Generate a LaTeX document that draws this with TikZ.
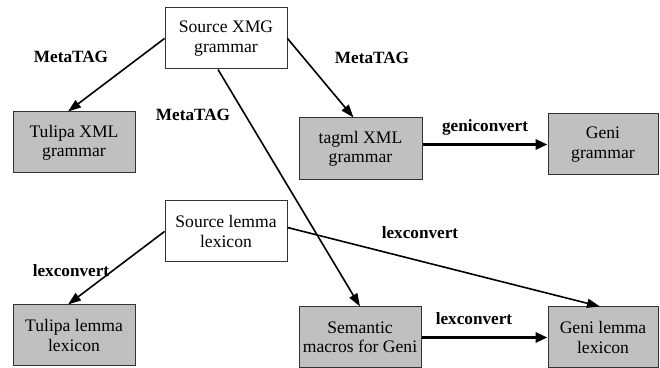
\documentclass[tikz,border=0pt]{standalone}
\usepackage{fontspec}
\setmainfont{Liberation Serif}
\usepackage{xcolor}
\definecolor{boxgray}{RGB}{192,192,192}
\usepackage{tikz}
\usetikzlibrary{arrows.meta,positioning}

\begin{document}
\begin{tikzpicture}[x=0.5pt,y=-0.5pt,
  srcbox/.style={draw=black!80,line width=0.5pt,fill=white,minimum width=61pt,minimum height=30.5pt,align=center,inner sep=0pt,font=\fontsize{8.8}{9.6}\selectfont},
  outbox/.style={srcbox,fill=boxgray},
  conv/.style={line width=0.8pt,-{Triangle[length=6.5pt,width=4.5pt]}},
  bigconv/.style={line width=1.6pt,-{Triangle[length=6pt,width=5pt]}},
  lbl/.style={font=\bfseries\fontsize{8.6}{9.6}\selectfont,inner sep=0pt}]
  \useasboundingbox (0,0) rectangle (660,368);

  % source files
  \node[srcbox] (xmg) at (226,38.5) {Source XMG\\grammar};
  \node[srcbox] (srclex) at (226,231.5) {Source lemma\\lexicon};

  % generated files
  \node[outbox] (tulipaxml) at (74,142.5) {Tulipa XML\\grammar};
  \node[outbox,minimum width=61.5pt,minimum height=31pt] (tagml) at (360.5,149) {tagml XML\\grammar};
  \node[outbox,minimum width=55pt] (genigram) at (603,144.5) {Geni\\grammar};
  \node[outbox] (tulipalex) at (74,335.5) {Tulipa lemma\\lexicon};
  \node[outbox] (sem) at (360,337.5) {Semantic\\macros for Geni};
  \node[outbox,minimum width=55pt] (genilex) at (603,337.5) {Geni lemma\\lexicon};

  % MetaTAG compilation
  \draw[conv] (xmg.west) -- ([xshift=-3pt]tulipaxml.north);
  \draw[conv] (xmg.east) -- ([xshift=-3.5pt]tagml.north);
  \draw[conv] ([xshift=-4pt]xmg.south) -- (sem.north);
  \node[lbl] (mt1) at (71,57) {MetaTAG};
  \node[lbl] (mt2) at (372,58) {MetaTAG};
  \node[lbl] (mt3) at (193,115) {MetaTAG};

  % conversions
  \draw[bigconv] (tagml.east |- genigram.west) -- (genigram.west);
  \node[lbl] (gc) at (485,127) {geniconvert};
  \draw[conv] (srclex.west) -- ([xshift=-3pt]tulipalex.north);
  \node[lbl] (lc1) at (71,271) {lexconvert};
  \draw[conv] ([yshift=2pt]srclex.east) -- ([xshift=-1.5pt]genilex.north);
  \node[lbl] (lc2) at (420,233) {lexconvert};
  \draw[bigconv] (sem.east) -- (genilex.west);
  \node[lbl] (lc3) at (474,319) {lexconvert};
\end{tikzpicture}
\end{document}
